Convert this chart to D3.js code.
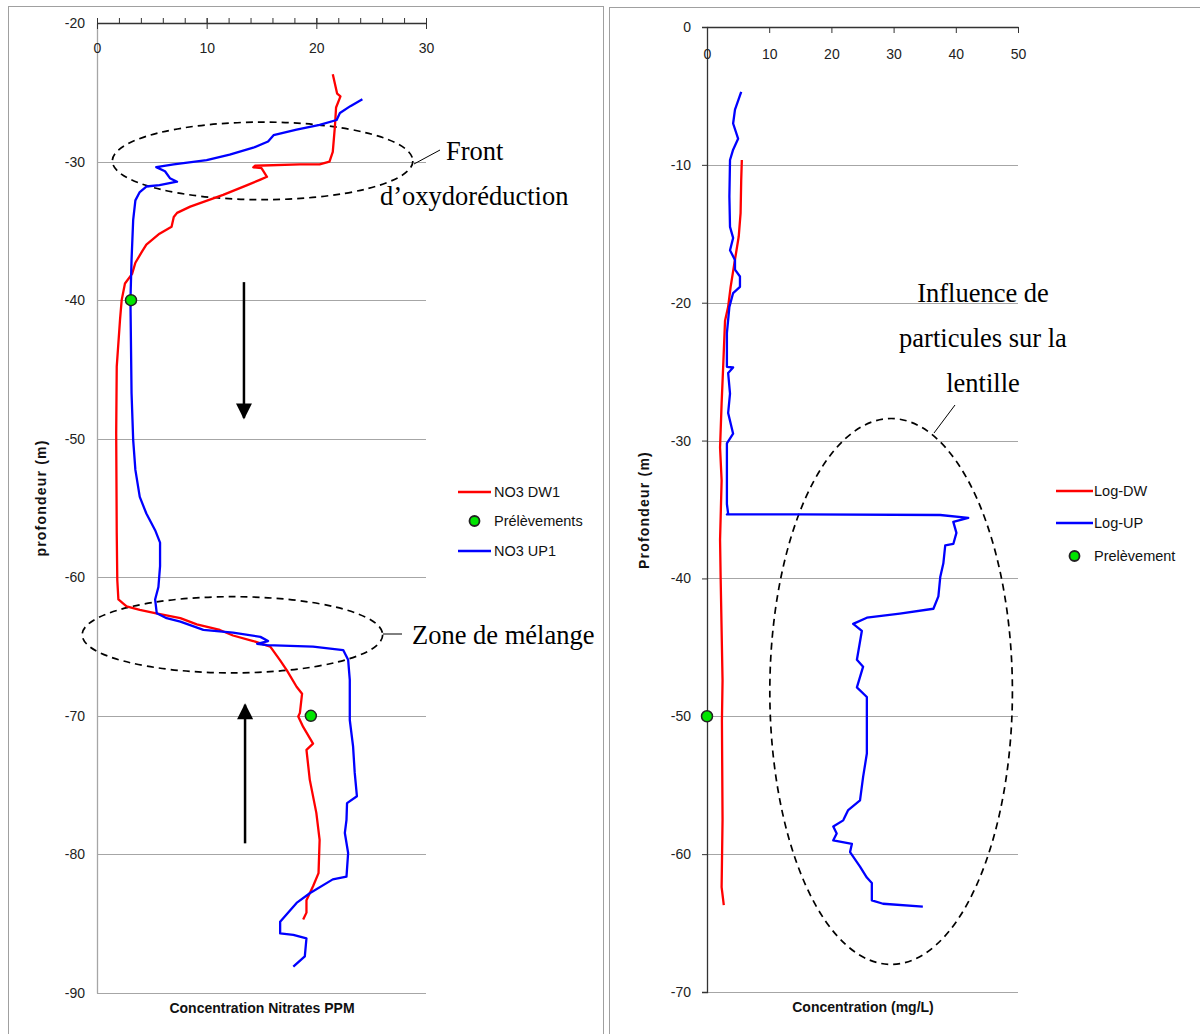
<!DOCTYPE html>
<html>
<head>
<meta charset="utf-8">
<script src="https://cdn.jsdelivr.net/npm/d3@7"></script>
<style>
  body { margin: 0; background: #fff; }
  svg { display: block; }
  .tick text { font-family: "Liberation Sans", Arial, sans-serif; font-size: 14px; fill: #222; }
  .serif { font-family: "Liberation Serif", "Times New Roman", serif; font-size: 26.5px; fill: #000; }
  .lab { font-family: "Liberation Sans", Arial, sans-serif; font-size: 14px; font-weight: bold; fill: #111; }
  .leg { font-family: "Liberation Sans", Arial, sans-serif; font-size: 14.5px; fill: #111; }
</style>
</head>
<body>
<div id="chart"></div>
<script>
// ---- data (concentration, depth) ----
const no3Dw1 = [
  [21.5,-23.7],[21.9,-25.1],[22.2,-25.3],[21.8,-26.1],[21.7,-27.4],[21.5,-29.3],[21.2,-30.0],
  [20.3,-30.2],[18.5,-30.2],[14.4,-30.3],[14.25,-30.41],[15.0,-30.48],[15.5,-31.1],[14.9,-31.3],
  [13.7,-31.7],[11.5,-32.4],[8.5,-33.25],[7.3,-33.7],[7.0,-34.0],[6.8,-34.7],[5.7,-35.2],
  [4.5,-36.0],[4.1,-36.5],[3.5,-37.3],[3.2,-38.1],[2.55,-38.8],[2.25,-40.0],[2.1,-41.4],
  [1.8,-44.8],[1.75,-49.6],[1.8,-56.8],[1.85,-60.2],[1.95,-61.6],[2.4,-61.9],[2.7,-62.1],
  [3.9,-62.35],[5.4,-62.6],[7.6,-62.95],[9.1,-63.4],[11.2,-63.8],[12.4,-64.2],[14.25,-64.6],
  [15.8,-65.0],[16.7,-66.0],[17.3,-66.7],[18.2,-67.9],[18.7,-68.4],[18.5,-69.8],[18.35,-70.05],
  [18.8,-70.8],[19.7,-72.0],[19.1,-72.45],[19.4,-74.6],[20.0,-77.0],[20.3,-78.95],[20.2,-81.35],
  [19.7,-82.3],[19.1,-83.3],[19.1,-84.2],[18.8,-84.7]
];
const no3Up1 = [
  [24.2,-25.5],[23.1,-26.0],[22.15,-26.5],[21.85,-27.0],[20.3,-27.35],[18.2,-27.7],[16.1,-28.1],
  [15.6,-28.55],[14.25,-29.0],[12.1,-29.5],[10.0,-29.9],[7.0,-30.2],[5.4,-30.4],[6.2,-30.7],
  [6.65,-31.2],[7.3,-31.45],[5.7,-31.7],[4.5,-31.8],[3.9,-32.2],[3.5,-32.8],[3.3,-34.2],
  [3.15,-37.1],[3.05,-40.0],[3.15,-46.7],[3.3,-50.1],[3.5,-52.25],[3.9,-54.2],[4.5,-55.4],
  [5.3,-56.6],[5.75,-57.5],[5.75,-59.2],[5.6,-60.7],[5.3,-61.6],[5.45,-62.6],[6.35,-62.95],
  [7.6,-63.2],[9.7,-63.8],[12.4,-64.0],[14.9,-64.3],[15.6,-64.6],[14.6,-64.8],[15.5,-64.9],
  [19.7,-65.0],[22.45,-65.25],[22.9,-65.95],[23.05,-67.4],[23.05,-70.3],[23.35,-72.2],
  [23.5,-74.1],[23.7,-75.8],[22.8,-76.3],[22.75,-77.5],[22.6,-78.45],[22.9,-79.9],[22.75,-81.6],
  [21.5,-81.8],[19.4,-82.8],[18.2,-83.5],[16.7,-84.85],[16.7,-85.7],[17.9,-85.8],[19.1,-86.05],
  [18.95,-87.35],[17.9,-88.1]
];
const prelevementsLeft = [[3.1,-40],[19.5,-70]];

const logDw = [
  [5.6,-9.65],[5.5,-11.1],[5.4,-13.5],[5.1,-15.2],[4.4,-17.15],[3.8,-18.85],[3.4,-20.3],
  [2.9,-21.3],[2.6,-24.65],[2.35,-27.3],[2.1,-30.5],[2.35,-32.9],[2.1,-37.2],[2.2,-40.1],
  [2.5,-47.4],[2.4,-50.3],[2.5,-57.5],[2.35,-62.4],[2.7,-63.7]
];
const logUp = [
  [5.5,-4.7],[4.5,-6.0],[4.2,-7.0],[5.0,-8.1],[4.2,-8.9],[3.7,-9.65],[3.6,-12.3],[3.7,-14.5],
  [4.2,-15.3],[3.7,-16.2],[4.5,-16.9],[4.5,-17.6],[5.3,-18.1],[5.3,-18.85],[4.2,-19.3],
  [3.6,-20.3],[3.2,-22.2],[3.2,-24.65],[4.2,-24.7],[3.4,-25.1],[3.7,-26.6],[3.4,-28.0],
  [4.2,-29.5],[3.2,-30.2],[3.2,-34.6],[3.4,-35.3],[3.2,-35.36],[14.9,-35.36],[37.5,-35.4],
  [42.0,-35.6],[39.6,-35.9],[40.1,-36.7],[39.6,-37.5],[38.3,-37.6],[38.0,-38.9],[37.5,-39.9],
  [37.2,-41.3],[36.4,-42.2],[31.0,-42.55],[25.7,-42.85],[23.5,-43.3],[24.9,-43.8],[24.1,-45.9],
  [25.1,-46.4],[24.1,-47.9],[25.7,-48.6],[25.7,-52.7],[25.1,-54.4],[24.6,-56.1],[22.7,-56.8],
  [21.9,-57.55],[20.3,-58.0],[20.85,-58.5],[20.3,-59.0],[23.3,-59.25],[23.0,-59.85],[24.6,-60.9],
  [25.7,-61.7],[26.5,-62.1],[26.5,-63.35],[28.3,-63.6],[34.7,-63.8]
];
const prelevementRight = [[0,-50]];

const leftXTicks = [0, 10, 20, 30];
const leftYTicks = [-20, -30, -40, -50, -60, -70, -80, -90];
const rightXTicks = [0, 10, 20, 30, 40, 50];
const rightYTicks = [0, -10, -20, -30, -40, -50, -60, -70];

// annotation ellipses: [cx, cy, rx, ry] in data units
const leftEllipses = [[15.1,-29.95,13.7,2.8],[12.35,-64.15,13.7,2.75]];
const rightEllipses = [[29.6,-48.2,19.5,19.8]];

const RED = '#ff0000', BLUE = '#0000ff', GREEN = '#00e600';

const svg = d3.select('#chart').append('svg')
  .attr('width', 1200).attr('height', 1034);

// panel frames
svg.append('rect').attr('x', 8.5).attr('y', 6.5).attr('width', 595).attr('height', 1040)
  .attr('fill', 'none').attr('stroke', '#a0a0a0');
svg.append('rect').attr('x', 609.5).attr('y', 7.5).attr('width', 600).attr('height', 1040)
  .attr('fill', 'none').attr('stroke', '#a0a0a0');

function drawPanel(o) {
  const g = svg.append('g');
  const x = d3.scaleLinear().domain(o.xDomain).range(o.xRange);
  const y = d3.scaleLinear().domain(o.yDomain).range(o.yRange);
  const fmt = d => String(d);

  // gridlines
  g.selectAll('line.grid').data(o.yTicks).enter().append('line')
    .attr('x1', o.xRange[0]).attr('x2', o.xRange[1])
    .attr('y1', d => Math.round(y(d)) + 0.5).attr('y2', d => Math.round(y(d)) + 0.5)
    .attr('stroke', '#a6a6a6').attr('stroke-width', 1.2);

  // y axis
  const ya = g.append('g').attr('transform', `translate(${o.xRange[0]},0)`)
    .call(d3.axisLeft(y).tickValues(o.yTicks).tickFormat(fmt).tickSize(o.yTickSize).tickPadding(o.yPad));
  ya.select('.domain').attr('stroke', o.yAxisColor).attr('stroke-width', 1.3);
  ya.selectAll('.tick line').attr('stroke', '#333');

  // x axis (at the top, labels below)
  const xa = g.append('g').attr('transform', `translate(0,${o.yRange[0]})`)
    .call(d3.axisBottom(x).tickValues(o.xTicks).tickFormat(fmt).tickSize(6).tickPadding(o.xPad).tickSizeOuter(0));
  xa.select('.domain').attr('stroke', '#333').attr('stroke-width', 1.3);
  xa.selectAll('.tick line').attr('stroke', '#333').attr('y1', o.xTickUp);
  if (o.minor) {
    const ma = g.append('g').attr('transform', `translate(0,${o.yRange[0]})`)
      .call(d3.axisTop(x).tickValues(d3.range(o.xDomain[0], o.xDomain[1] + 0.01, o.minor)).tickSize(5).tickFormat(''));
    ma.select('.domain').remove();
    ma.selectAll('.tick line').attr('stroke', '#333');
  }

  // axis titles
  g.append('text').attr('class', 'lab').attr('text-anchor', 'middle')
    .style('letter-spacing', o.yTitleSpacing)
    .attr('transform', `translate(${o.yTitleX},${o.yTitleY}) rotate(-90)`).text(o.yTitle);
  g.append('text').attr('class', 'lab').attr('text-anchor', 'middle')
    .attr('x', o.xTitleX).attr('y', o.xTitleY).text(o.xTitle);

  // ellipses
  g.selectAll('ellipse').data(o.ellipses).enter().append('ellipse')
    .attr('cx', d => x(d[0])).attr('cy', d => y(d[1]))
    .attr('rx', d => x(d[2]) - x(0)).attr('ry', d => y(-d[3]) - y(0))
    .attr('fill', 'none').attr('stroke', '#000').attr('stroke-width', 1.7)
    .attr('stroke-dasharray', '7,5');

  const line = d3.line().x(d => x(d[0])).y(d => y(d[1]));
  o.series.forEach(s => {
    g.append('path').datum(s.data).attr('d', line)
      .attr('fill', 'none').attr('stroke', s.color).attr('stroke-width', 2.3)
      .attr('stroke-linejoin', 'round');
  });
  g.selectAll('circle.pt').data(o.points).enter().append('circle')
    .attr('cx', d => x(d[0])).attr('cy', d => y(d[1])).attr('r', 5.5)
    .attr('fill', GREEN).attr('stroke', '#222').attr('stroke-width', 1.5);

  // legend
  const lg = g.append('g');
  o.legend.forEach((it, i) => {
    const ly = o.legendY[i];
    if (it.type === 'line') {
      lg.append('line').attr('x1', o.legendX).attr('x2', o.legendX + o.legendW)
        .attr('y1', ly).attr('y2', ly).attr('stroke', it.color).attr('stroke-width', 2.3);
    } else {
      lg.append('circle').attr('cx', o.legendX + o.legendW / 2).attr('cy', ly).attr('r', 5)
        .attr('fill', GREEN).attr('stroke', '#222').attr('stroke-width', 1.8);
    }
    lg.append('text').attr('class', 'leg').attr('x', o.legendX + o.legendW + o.legendGap)
      .attr('y', ly).attr('dy', '0.35em').text(it.label);
  });
  return { x, y, g };
}

const L = drawPanel({
  xDomain: [0, 30], xRange: [97, 426], yDomain: [-20, -90], yRange: [23, 993],
  xTicks: leftXTicks, yTicks: leftYTicks, yTickSize: 0, yPad: 12, yAxisColor: '#a6a6a6',
  xPad: 14, xTickUp: -5, minor: 2,
  yTitle: 'profondeur (m)', yTitleX: 46, yTitleY: 498, yTitleSpacing: '1.2px',
  xTitle: 'Concentration Nitrates PPM', xTitleX: 262, xTitleY: 1013,
  ellipses: leftEllipses,
  series: [{ data: no3Dw1, color: RED }, { data: no3Up1, color: BLUE }],
  points: prelevementsLeft,
  legend: [{ type: 'line', color: RED, label: 'NO3 DW1' }, { type: 'pt', label: 'Prélèvements' },
           { type: 'line', color: BLUE, label: 'NO3 UP1' }],
  legendX: 458, legendW: 33, legendGap: 3, legendY: [492, 521, 551]
});

const R = drawPanel({
  xDomain: [0, 50], xRange: [707, 1018], yDomain: [0, -70], yRange: [27, 992],
  xTicks: rightXTicks, yTicks: rightYTicks, yTickSize: 5, yPad: 11, yAxisColor: '#333',
  xPad: 16, xTickUp: 0, minor: null,
  yTitle: 'Profondeur (m)', yTitleX: 649, yTitleY: 510, yTitleSpacing: '1.2px',
  xTitle: 'Concentration (mg/L)', xTitleX: 863, xTitleY: 1012,
  ellipses: rightEllipses,
  series: [{ data: logDw, color: RED }, { data: logUp, color: BLUE }],
  points: prelevementRight,
  legend: [{ type: 'line', color: RED, label: 'Log-DW' }, { type: 'line', color: BLUE, label: 'Log-UP' },
           { type: 'pt', label: 'Prelèvement' }],
  legendX: 1056, legendW: 37, legendGap: 1, legendY: [491, 523, 556]
});

// arrows (left panel)
const defs = svg.append('defs');
defs.append('marker').attr('id', 'ah').attr('viewBox', '0 0 10 10').attr('refX', 9).attr('refY', 5)
  .attr('markerWidth', 28).attr('markerHeight', 16).attr('orient', 'auto')
  .attr('markerUnits', 'userSpaceOnUse')
  .append('path').attr('d', 'M0,0 L10,5 L0,10 Z').attr('fill', '#000');

const arrows = [[13.4, -38.7, -48.5], [13.5, -79.2, -69.2]];
arrows.forEach(a => {
  L.g.append('line').attr('x1', L.x(a[0])).attr('x2', L.x(a[0]))
    .attr('y1', L.y(a[1])).attr('y2', L.y(a[2]))
    .attr('stroke', '#000').attr('stroke-width', 2.5).attr('marker-end', 'url(#ah)');
});

// text annotations
svg.append('line').attr('x1', 414).attr('y1', 164).attr('x2', 440).attr('y2', 150)
  .attr('stroke', '#000').attr('stroke-width', 1);
svg.append('text').attr('class', 'serif').attr('x', 446).attr('y', 160).text('Front');
svg.append('text').attr('class', 'serif').attr('x', 380).attr('y', 205).text('d’oxydoréduction');

svg.append('line').attr('x1', 383).attr('y1', 634).attr('x2', 402).attr('y2', 634)
  .attr('stroke', '#000').attr('stroke-width', 1);
svg.append('text').attr('class', 'serif').attr('x', 412).attr('y', 644).text('Zone de mélange');

svg.append('line').attr('x1', 934).attr('y1', 433).attr('x2', 955).attr('y2', 405)
  .attr('stroke', '#000').attr('stroke-width', 1);
['Influence de', 'particules sur la', 'lentille'].forEach((t, i) => {
  svg.append('text').attr('class', 'serif').attr('text-anchor', 'middle')
    .attr('x', 983).attr('y', 302 + i * 45).text(t);
});
</script>
</body>
</html>
